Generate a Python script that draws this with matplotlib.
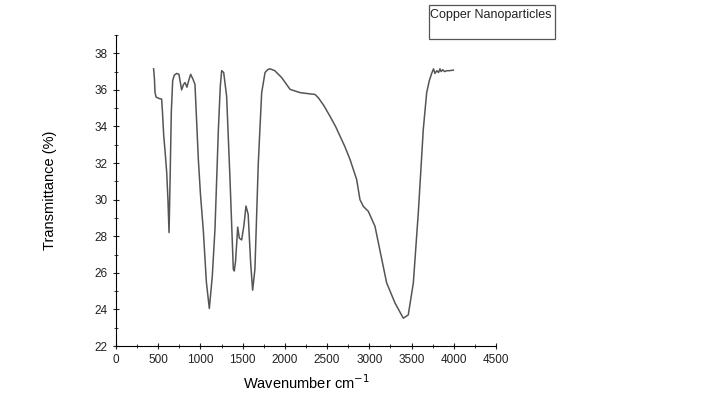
import numpy as np
import matplotlib.pyplot as plt
from matplotlib.patches import Rectangle
from matplotlib.ticker import MultipleLocator

plt.rcParams['font.family'] = ['Liberation Sans', 'DejaVu Sans']

# DADOS
wavenumber = np.array([
    445, 455, 462, 475, 493, 515, 540, 550, 565, 580, 600, 615, 628,
    640, 655, 671, 690, 718, 745, 777, 800, 817, 840, 860, 884, 910,
    935, 975, 1000, 1034, 1070, 1105, 1140, 1172, 1212, 1235, 1251,
    1275, 1310, 1350, 1389, 1400, 1415, 1429, 1441, 1460, 1488, 1515,
    1539, 1565, 1595, 1618, 1645, 1685, 1725, 1765, 1800, 1824, 1880,
    1962, 2061, 2179, 2300, 2357, 2396, 2460, 2534, 2600, 2653, 2710,
    2771, 2850, 2889, 2929, 2988, 3067, 3140, 3205, 3304, 3402, 3461,
    3521, 3580, 3639, 3679, 3710, 3738, 3760, 3777, 3800, 3820, 3837,
    3850, 3870, 3890, 3920, 3950, 3994])
transmittance = np.array([
    37.15, 36.6, 35.85, 35.6, 35.57, 35.52, 35.5, 34.8, 33.5, 32.7,
    31.5, 30.0, 28.2, 31.0, 34.8, 36.5, 36.8, 36.9, 36.85, 36.0,
    36.3, 36.4, 36.15, 36.5, 36.85, 36.6, 36.3, 32.2, 30.3, 28.3,
    25.5, 24.05, 25.8, 28.4, 33.8, 36.2, 37.05, 36.95, 35.65, 31.1,
    26.2, 26.1, 26.6, 27.6, 28.5, 27.9, 27.8, 28.6, 29.65, 29.2,
    26.5, 25.05, 26.2, 32.0, 35.85, 36.95, 37.12, 37.15, 37.05,
    36.67, 36.03, 35.85, 35.78, 35.75, 35.57, 35.15, 34.56, 34.0,
    33.47, 32.9, 32.2, 31.1, 30.0, 29.63, 29.36, 28.54, 26.9, 25.45,
    24.35, 23.52, 23.7, 25.45, 29.3, 33.85, 35.85, 36.5, 36.9, 37.15,
    36.9, 37.05, 36.95, 37.15, 37.0, 37.1, 37.0, 37.05, 37.05, 37.08])

fig = plt.figure(figsize=(7.1, 3.99), dpi=100)
ax = fig.add_axes([0.1634, 0.1328, 0.5352, 0.7795])

ax.plot(wavenumber, transmittance, color='#555555', linewidth=1.1)

ax.set_xlim(0, 4500)
ax.set_ylim(22, 39)
ax.xaxis.set_major_locator(MultipleLocator(500))
ax.xaxis.set_minor_locator(MultipleLocator(250))
ax.set_yticks(np.arange(22, 39, 2))
ax.yaxis.set_minor_locator(MultipleLocator(1))
ax.tick_params(which='both', direction='inout', labelsize=8.5, colors='#222222')
ax.tick_params(which='major', length=5)
ax.tick_params(which='minor', length=3)
ax.spines['top'].set_visible(False)
ax.spines['right'].set_visible(False)

ax.set_xlabel('Wavenumber cm$^{-1}$', fontsize=10.5, labelpad=5)
ax.set_ylabel('Transmittance (%)', fontsize=10.5, labelpad=27)

# caixa da legenda
fig.add_artist(Rectangle((429 / 710, 1 - 39 / 399), 126 / 710, 34 / 399,
                         transform=fig.transFigure, fill=False,
                         edgecolor='#555555', linewidth=0.9))
fig.text(430 / 710, 1 - 15 / 399, 'Copper Nanoparticles', fontsize=9,
         va='center', ha='left', color='#222222')

plt.savefig('out.png', dpi=100)
